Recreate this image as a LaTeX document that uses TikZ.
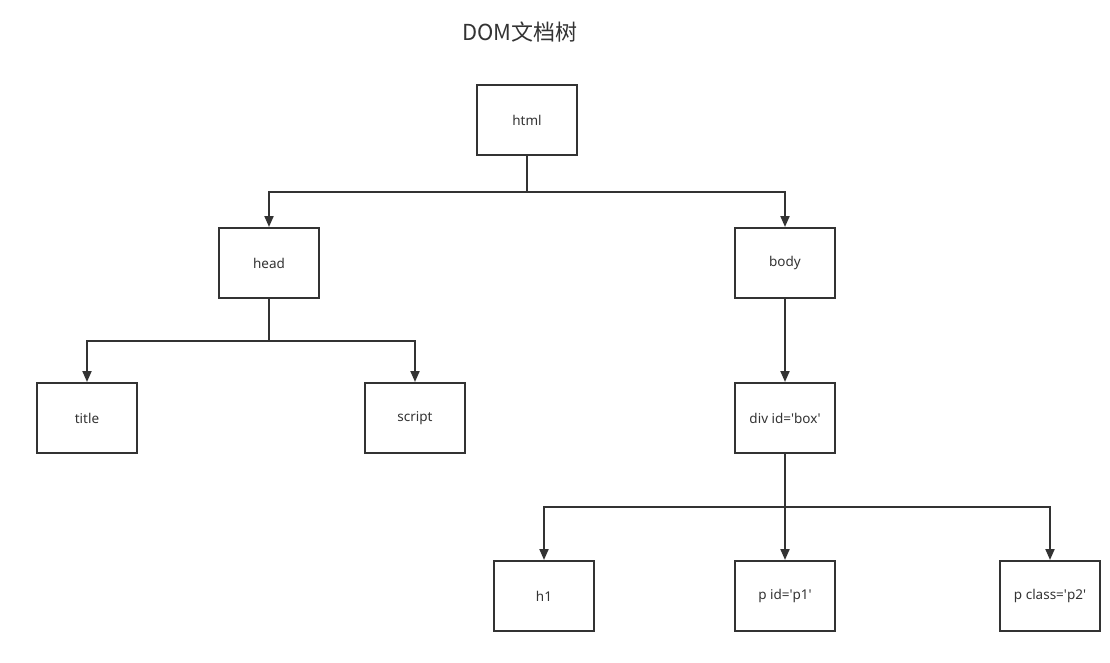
\documentclass[tikz,border=0pt]{standalone}
\usepackage{fontspec}
\setmainfont{Noto Sans}
\newfontfamily\cjk{Noto Sans CJK SC}
\usetikzlibrary{arrows.meta}
\definecolor{ink}{HTML}{333333}
\newcommand{\sq}{\textquotesingle}
\begin{document}
\begin{tikzpicture}[x=1pt,y=-1pt,
  box/.style={draw=ink,line width=2pt,minimum width=100pt,minimum height=70pt,inner sep=0pt,text=ink,font=\fontsize{13.5}{15}\selectfont},
  conn/.style={draw=ink,line width=2pt},
  arr/.style={conn,-{Triangle[length=11pt,width=9pt]}}]
\useasboundingbox (0,0) rectangle (1110,663);
\node[text=ink,font=\cjk\fontsize{22}{26}\selectfont] (ttl) at (520,32) {DOM文档树};
\node[box] (html) at (527,120) {html};
\node[box] (head) at (269,263) {head};
\node[box] (body) at (785,263) {body};
\node[box] (title) at (87,418) {title};
\node[box] (script) at (415,418) {script};
\node[box] (div) at (785,418) {div id=\sq box\sq};
\node[box] (h1) at (544,596) {h1};
\node[box] (p1) at (785,596) {p id=\sq p1\sq};
\node[box] (p2) at (1050,596) {p class=\sq p2\sq};
\coordinate (j1) at (527,192);
\coordinate (j2) at (269,341);
\coordinate (j3) at (785,507);
\draw[conn] (html.south) -- (j1);
\draw[arr] (j1) -| (head.north);
\draw[arr] (j1) -| (body.north);
\draw[conn] (head.south) -- (j2);
\draw[arr] (j2) -| (title.north);
\draw[arr] (j2) -| (script.north);
\draw[arr] (body.south) -- (div.north);
\draw[conn] (div.south) -- (j3);
\draw[arr] (j3) -| (h1.north);
\draw[arr] (j3) -- (p1.north);
\draw[arr] (j3) -| (p2.north);
\end{tikzpicture}
\end{document}
